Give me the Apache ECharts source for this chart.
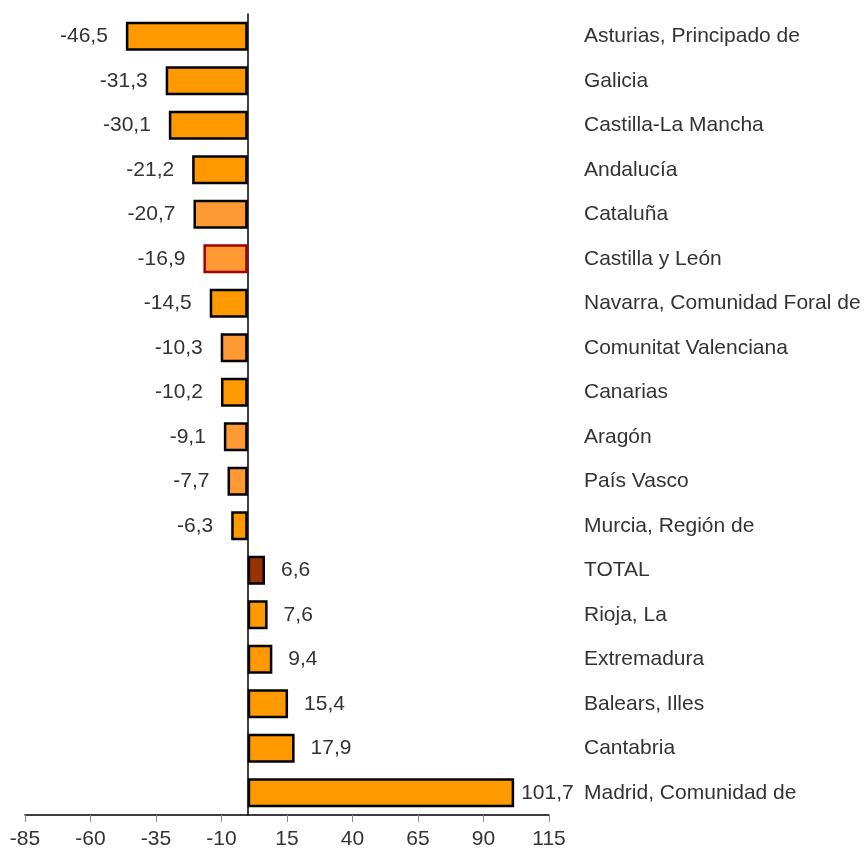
<!DOCTYPE html>
<html>
<head>
<meta charset="utf-8">
<script src="https://cdn.jsdelivr.net/npm/echarts@6/dist/echarts.min.js"></script>
<style>
    html, body { margin: 0; padding: 0; background: #fff; }
    #chart { width: 867px; height: 850px; }
</style>
</head>
<body>
<div id="chart"></div>
<script>
var regions = ['Asturias, Principado de', 'Galicia', 'Castilla-La Mancha', 'Andalucía', 'Cataluña',
    'Castilla y León', 'Navarra, Comunidad Foral de', 'Comunitat Valenciana', 'Canarias', 'Aragón',
    'País Vasco', 'Murcia, Región de', 'TOTAL', 'Rioja, La', 'Extremadura', 'Balears, Illes',
    'Cantabria', 'Madrid, Comunidad de'];
var changes = [-46.5, -31.3, -30.1, -21.2, -20.7, -16.9, -14.5, -10.3, -10.2, -9.1, -7.7, -6.3,
    6.6, 7.6, 9.4, 15.4, 17.9, 101.7];
var xTicks = [-85, -60, -35, -10, 15, 40, 65, 90, 115];

function barStyle(name) {
    var style = { color: '#FF9900', borderColor: '#000', borderWidth: 2.5 };
    if (['Cataluña', 'Comunitat Valenciana', 'Aragón', 'País Vasco'].indexOf(name) >= 0) {
        style.color = '#FF9933';
    }
    if (name === 'Castilla y León') {
        style.color = '#FF9933';
        style.borderColor = '#A50000';
    }
    if (name === 'TOTAL') {
        style.color = '#993300';
    }
    return style;
}

function initChart() {
    var chart = echarts.init(document.getElementById('chart'));
    var data = changes.map(function (v, i) {
        var neg = v < 0;
        var dist = neg ? 18 : 16;
        if (regions[i] === 'Madrid, Comunidad de') {
            dist = 7;
        }
        return {
            value: v,
            itemStyle: barStyle(regions[i]),
            label: {
                position: neg ? 'left' : 'right',
                distance: dist
            }
        };
    });
    var option = {
        animation: false,
        textStyle: { fontFamily: 'Liberation Sans, Arial, sans-serif' },
        grid: {
            left: 25,
            right: 318,
            top: 14,
            bottom: 35
        },
        xAxis: {
            type: 'value',
            min: -85,
            max: 115,
            splitLine: { show: false },
            axisLine: { show: true, lineStyle: { color: '#000', width: 1.5 } },
            axisTick: {
                show: true,
                length: 7,
                customValues: xTicks,
                lineStyle: { color: '#888' }
            },
            axisLabel: {
                customValues: xTicks,
                fontSize: 21,
                color: '#333',
                margin: 14
            }
        },
        yAxis: [{
            type: 'category',
            inverse: true,
            data: regions,
            axisLine: { onZero: true, lineStyle: { color: '#000', width: 1.5 } },
            axisTick: { length: 5, lineStyle: { color: '#888' } },
            axisLabel: { show: false }
        }, {
            type: 'category',
            inverse: true,
            position: 'right',
            data: regions,
            axisLine: { show: false },
            axisTick: { show: false },
            axisLabel: {
                fontSize: 21,
                color: '#333',
                margin: 35
            }
        }],
        series: [{
            type: 'bar',
            yAxisIndex: 0,
            barWidth: 29,
            data: data,
            label: {
                show: true,
                fontSize: 21,
                color: '#333',
                formatter: function (p) {
                    return String(p.value).replace('.', ',');
                }
            }
        }]
    };
    chart.setOption(option);
    return chart;
}

var chart = initChart();
</script>
</body>
</html>
